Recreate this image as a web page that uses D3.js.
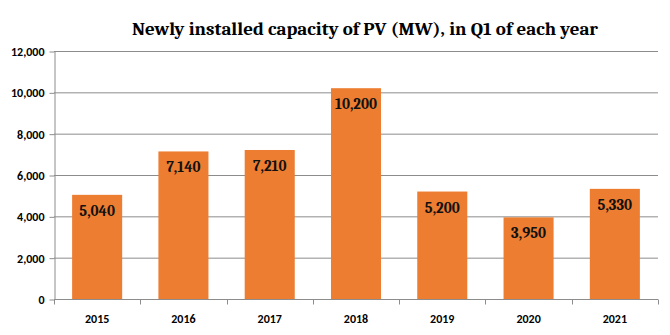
<!DOCTYPE html>
<html>
<head>
<meta charset="utf-8">
<script src="https://cdn.jsdelivr.net/npm/d3@7"></script>
<style>
  body { margin: 0; background: #fff; }
  svg { display: block; }
</style>
</head>
<body>
<div id="chart"></div>
<script>
// data
var years = ["2015", "2016", "2017", "2018", "2019", "2020", "2021"];
var capacity = [5040, 7140, 7210, 10200, 5200, 3950, 5330];
var yTicks = [0, 2000, 4000, 6000, 8000, 10000, 12000];
var chartTitle = "Newly installed capacity of PV (MW), in Q1 of each year";

function drawChart() {
    var W = 670, H = 335;
    var margin = {top: 51, right: 12, bottom: 36, left: 54};
    var width = W - margin.left - margin.right,
        height = H - margin.top - margin.bottom;

    var svg = d3.select("#chart").append("svg")
        .attr("width", W)
        .attr("height", H);

    var g = svg.append("g")
        .attr("transform", "translate(" + margin.left + "," + margin.top + ")");

    var x = d3.scaleBand().domain(years).range([0, width]).paddingInner(0.42).paddingOuter(0.21);
    var y = d3.scaleLinear().domain([0, 12000]).range([height, 0]);

    // gridlines
    g.append("g")
        .selectAll("line")
        .data(yTicks)
        .enter().append("line")
        .attr("x1", 0)
        .attr("x2", width)
        .attr("y1", function (d) { return y(d) + 0.5; })
        .attr("y2", function (d) { return y(d) + 0.5; })
        .attr("stroke", "#8c8c8c")
        .attr("stroke-width", 1);

    // y axis
    var yAxis = d3.axisLeft(y)
        .tickValues(yTicks)
        .tickFormat(d3.format(","))
        .tickSizeInner(5)
        .tickSizeOuter(0)
        .tickPadding(5);

    var ya = g.append("g")
        .attr("class", "y axis")
        .attr("transform", "translate(0.5,0.5)")
        .call(yAxis);
    ya.select(".domain").attr("stroke", "#8c8c8c");
    ya.selectAll(".tick line").attr("stroke", "#8c8c8c");
    ya.selectAll("text")
        .style("font-family", "Carlito, 'Liberation Sans', Arial, sans-serif")
        .style("font-size", "12px")
        .style("font-weight", "bold")
        .attr("fill", "#000");

    // bars
    g.selectAll(".bar")
        .data(capacity)
        .enter().append("rect")
        .attr("class", "bar")
        .attr("x", function (d, i) { return x(years[i]); })
        .attr("y", function (d) { return y(d); })
        .attr("width", x.bandwidth())
        .attr("height", function (d) { return height - y(d); })
        .attr("fill", "#ed7d31");

    // x axis: ticks sit between categories
    var step = x.step();
    var xa = g.append("g")
        .attr("class", "x axis")
        .attr("transform", "translate(0," + (height + 0.5) + ")");
    xa.append("line")
        .attr("x1", 0).attr("x2", width)
        .attr("stroke", "#8c8c8c");
    xa.selectAll(".sep")
        .data(d3.range(years.length + 1))
        .enter().append("line")
        .attr("class", "sep")
        .attr("x1", function (i) { return Math.round(i * width / years.length) + 0.5; })
        .attr("x2", function (i) { return Math.round(i * width / years.length) + 0.5; })
        .attr("y1", 0).attr("y2", 5)
        .attr("stroke", "#8c8c8c");
    xa.selectAll(".lbl")
        .data(years)
        .enter().append("text")
        .attr("class", "lbl")
        .attr("x", function (d) { return x(d) + x.bandwidth() / 2; })
        .attr("y", 23)
        .attr("text-anchor", "middle")
        .style("font-family", "Carlito, 'Liberation Sans', Arial, sans-serif")
        .style("font-size", "12px")
        .style("font-weight", "bold")
        .text(function (d) { return d; });

    // value labels inside the bars
    g.selectAll(".val")
        .data(capacity)
        .enter().append("text")
        .attr("class", "val")
        .attr("x", function (d, i) { return x(years[i]) + x.bandwidth() / 2; })
        .attr("y", function (d) { return y(d) + 21; })
        .attr("text-anchor", "middle")
        .style("font-family", "Caladea, 'Liberation Serif', 'DejaVu Serif', serif")
        .style("font-size", "15px")
        .style("font-weight", "bold")
        .attr("fill", "#111")
        .text(function (d) { return d3.format(",")(d); });

    // title
    svg.append("text")
        .attr("x", 365)
        .attr("y", 35)
        .attr("text-anchor", "middle")
        .attr("textLength", 466)
        .attr("lengthAdjust", "spacingAndGlyphs")
        .style("font-family", "Caladea, 'Liberation Serif', 'DejaVu Serif', serif")
        .style("font-size", "19px")
        .style("font-weight", "bold")
        .text(chartTitle);
}

try {
    drawChart();
} catch (err) {
    console.error("Could not draw the chart", err);
}
</script>
</body>
</html>
